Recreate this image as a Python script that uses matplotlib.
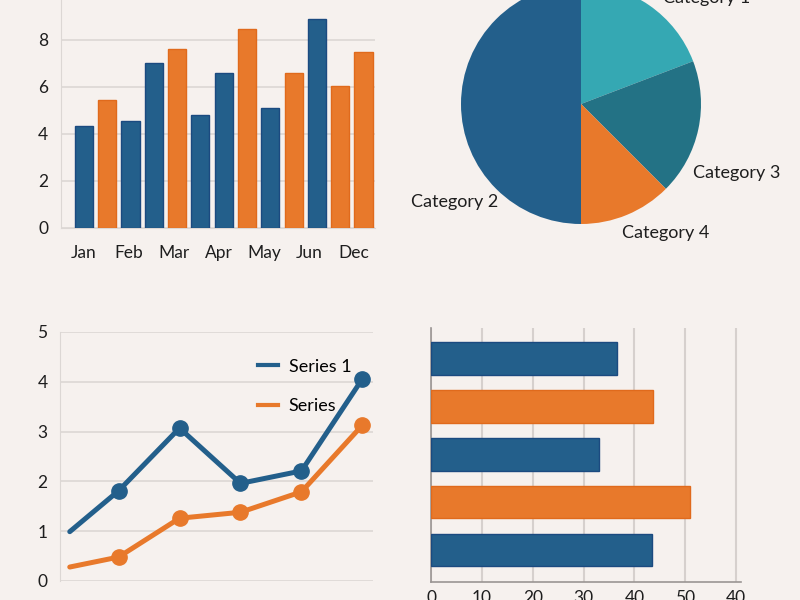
import numpy as np
import matplotlib
matplotlib.use("Agg")
import matplotlib.pyplot as plt
from matplotlib.lines import Line2D

plt.rcParams['font.family'] = ['Lato', 'DejaVu Sans']

BG = '#f6f1ee'
BLUE = '#235f8b'
BLUE_EDGE = '#1b4a80'
ORANGE = '#e8792b'
ORANGE_EDGE = '#e06a1c'
TEAL = '#35a8b3'
DARK_TEAL = '#237285'
GRID = '#dcd7d4'
TEXT = '#1e1e1e'

# top-left bars
bar_values = [4.35, 5.45, 4.55, 7.0, 7.6, 4.82, 6.6, 8.47, 5.09, 6.6, 8.9, 6.04, 7.47]
bar_series = ['b', 'o', 'b', 'b', 'o', 'b', 'b', 'o', 'b', 'o', 'b', 'o', 'o']
month_labels = ['Jan', 'Feb', 'Mar', 'Apr', 'May', 'Jun', 'Dec']

# pie (drawn clockwise from the top)
pie_labels = ['Category 1', 'Category 3', 'Category 4', 'Category 2']
pie_sizes = [19.2, 18.3, 12.5, 50.0]
pie_colors = [TEAL, DARK_TEAL, ORANGE, BLUE]

# line chart
line_x = [0.2, 1, 2, 3, 4, 5]
series1 = [0.99, 1.81, 3.07, 1.96, 2.21, 4.06]
series2 = [0.28, 0.48, 1.26, 1.38, 1.79, 3.13]

# horizontal bars (bottom to top)
hbar_values = [43.5, 50.9, 33.0, 43.7, 36.5]
hbar_series = ['b', 'o', 'b', 'o', 'b']
hbar_ticklabels = ['0', '10', '20', '30', '40', '50', '40']

fill = {'b': BLUE, 'o': ORANGE}
edge = {'b': BLUE_EDGE, 'o': ORANGE_EDGE}

fig = plt.figure(figsize=(8, 6), dpi=100, facecolor=BG)


def style(ax):
    ax.set_facecolor(BG)
    for s in ax.spines.values():
        s.set_visible(False)
    ax.tick_params(length=0, labelsize=12.5, colors=TEXT)


# ---- top left: vertical bars
ax1 = fig.add_axes([0.076, 0.62, 0.393, 0.392])
style(ax1)
idx = np.arange(len(bar_values))
ax1.bar(idx, bar_values, width=0.78,
        color=[fill[s] for s in bar_series],
        edgecolor=[edge[s] for s in bar_series], linewidth=1, zorder=3)
ax1.set_xlim(-0.99, 12.5)
ax1.set_ylim(0, 10)
ax1.set_yticks([0, 2, 4, 6, 8, 10])
ax1.set_xticks(np.linspace(0, 11.6, len(month_labels)))
ax1.set_xticklabels(month_labels)
ax1.yaxis.grid(True, color=GRID, linewidth=1.2, zorder=0)
ax1.spines['left'].set_visible(True)
ax1.spines['left'].set_color(GRID)
ax1.spines['bottom'].set_visible(True)
ax1.spines['bottom'].set_color(GRID)
ax1.tick_params(axis='y', pad=9)
ax1.tick_params(axis='x', pad=12)

# ---- top right: pie
ax2 = fig.add_axes([(581 - 140) / 800, 1 - (104 + 140) / 600, 280 / 800, 280 / 600])
ax2.set_facecolor(BG)
ax2.axis('off')
wedges, texts = ax2.pie(pie_sizes, labels=pie_labels, colors=pie_colors,
                        startangle=90, counterclock=False,
                        wedgeprops=dict(linewidth=0),
                        textprops=dict(fontsize=13, color=TEXT))
ax2.set_xlim(-140 / 120, 140 / 120)
ax2.set_ylim(-140 / 120, 140 / 120)
label_pos = {'Category 1': (0.68, 0.88, 'left'),
             'Category 3': (0.93, -0.575, 'left'),
             'Category 4': (0.34, -1.075, 'left'),
             'Category 2': (-0.69, -0.82, 'right')}
for t in texts:
    x, y, ha = label_pos[t.get_text()]
    t.set_position((x, y))
    t.set_ha(ha)
    t.set_va('center')

# ---- bottom left: lines
ax3 = fig.add_axes([0.075, 0.0317, 0.391, 0.415])
style(ax3)
ax3.plot(line_x, series1, color=BLUE, lw=3.6, marker='o', markersize=11,
         markevery=[1, 2, 3, 4, 5], zorder=3, solid_capstyle='round')
ax3.plot(line_x, series2, color=ORANGE, lw=3.6, marker='o', markersize=11,
         markevery=[1, 2, 3, 4, 5], zorder=3, solid_capstyle='round')
ax3.set_xlim(0.04, 5.17)
ax3.set_ylim(0, 5)
ax3.set_yticks([0, 1, 2, 3, 4, 5])
ax3.set_xticks([])
ax3.yaxis.grid(True, color=GRID, linewidth=1.2, zorder=0)
ax3.spines['left'].set_visible(True)
ax3.spines['left'].set_color(GRID)
ax3.tick_params(axis='y', pad=9)
handles = [Line2D([], [], color=BLUE, lw=3), Line2D([], [], color=ORANGE, lw=3)]
ax3.legend(handles, ['Series 1', 'Series'], loc='upper left',
           bbox_to_anchor=(0.633, 0.893), frameon=False, fontsize=13,
           borderpad=0, borderaxespad=0, handlelength=1.1,
           handletextpad=0.6, labelspacing=1.3)

# ---- bottom right: horizontal bars
ax4 = fig.add_axes([0.539, 0.03, 0.3875, 0.4233])
style(ax4)
pos = np.arange(len(hbar_values))
ax4.barh(pos, hbar_values, height=0.68,
         color=[fill[s] for s in hbar_series],
         edgecolor=[edge[s] for s in hbar_series], linewidth=1, zorder=3)
ax4.set_xlim(0, 61)
ax4.set_ylim(-0.67, 4.64)
ax4.set_yticks([])
ax4.set_xticks([0, 10, 20, 30, 40, 50, 60])
ax4.set_xticklabels(hbar_ticklabels)
ax4.xaxis.grid(True, color='#d6d0cd', linewidth=1.5, zorder=0)
for side in ('left', 'bottom'):
    ax4.spines[side].set_visible(True)
    ax4.spines[side].set_color('#9a9593')
    ax4.spines[side].set_linewidth(1.2)
ax4.tick_params(axis='x', pad=6, labelsize=12.5)

fig.savefig('out.png', dpi=100, facecolor=BG)
